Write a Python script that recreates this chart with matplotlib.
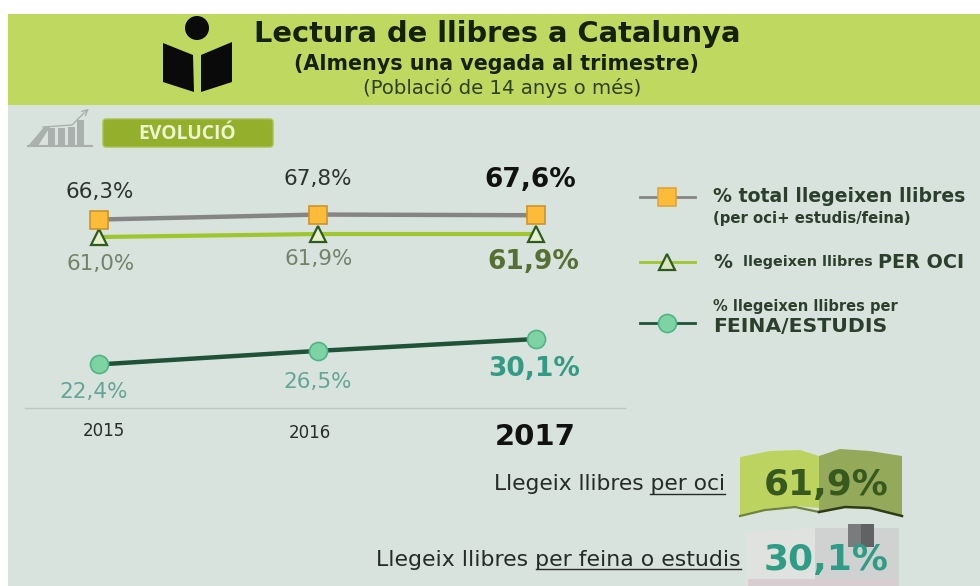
import numpy as np
import matplotlib
matplotlib.use('Agg')
import matplotlib.pyplot as plt
from matplotlib.patches import Polygon, Circle, Rectangle, FancyBboxPatch

years = [2015, 2016, 2017]
total = [66.3, 67.8, 67.6]
per_oci = [61.0, 61.9, 61.9]
feina_estudis = [22.4, 26.5, 30.1]

total_labels = ['66,3%', '67,8%', '67,6%']
oci_labels = ['61,0%', '61,9%', '61,9%']
feina_labels = ['22,4%', '26,5%', '30,1%']
year_labels = ['2015', '2016', '2017']

BG = '#d9e3de'
HEADER = '#bfd960'

plt.rcParams['font.family'] = ['DejaVu Sans']
fig = plt.figure(figsize=(9.8, 5.86), dpi=100, facecolor='white')


# pixel rectangle to figure fraction
def px_axes(x0, y0, x1, y1):
    return fig.add_axes([x0 / 980, 1 - y1 / 586, (x1 - x0) / 980, (y1 - y0) / 586])


# background layer, drawn in pixels of the picture
bg = px_axes(0, 0, 980, 586)
bg.set_xlim(0, 980)
bg.set_ylim(586, 0)
bg.axis('off')
bg.add_patch(Rectangle((8, 14), 972, 572, color=BG, lw=0))
bg.add_patch(Rectangle((8, 14), 972, 91, color=HEADER, lw=0))

# reader icon
bg.add_patch(Circle((197, 28), 12, color='#0a0a0a', lw=0))
bg.add_patch(Polygon([(163, 43), (193, 55), (194, 92), (163, 82)], color='#0a0a0a', lw=0))
bg.add_patch(Polygon([(201, 55), (232, 42), (232, 82), (201, 92)], color='#0a0a0a', lw=0))

bg.text(497, 34, 'Lectura de llibres a Catalunya', ha='center', va='center',
        fontsize=20.8, fontweight='bold', color='#14220a')
bg.text(496, 64, '(Almenys una vegada al trimestre)', ha='center', va='center',
        fontsize=14.9, fontweight='bold', color='#14220a')
bg.text(502, 88, '(Població de 14 anys o més)', ha='center', va='center',
        fontsize=14.2, color='#2f4020')

# small rising chart icon
icon_gray = '#aab0ae'
bg.add_patch(Polygon([(28, 146), (44, 127), (50, 127), (38, 146)], color=icon_gray, lw=0))
for x0, top in [(48, 128), (58, 128), (68, 127), (77, 120)]:
    bg.add_patch(Rectangle((x0, top), 7, 146 - top, color=icon_gray, lw=0))
bg.plot([28, 92], [146, 146], color=icon_gray, lw=1.5)
bg.plot([43, 72, 84], [127, 125, 113], color=icon_gray, lw=1)
bg.annotate('', xy=(91, 107), xytext=(83, 114),
            arrowprops=dict(arrowstyle='->', color=icon_gray, lw=1))

bg.add_patch(FancyBboxPatch((103, 119), 170, 28, boxstyle='round,pad=0,rounding_size=3',
                            fc='#93af2c', ec='#a9c24c', lw=1))
bg.text(187, 134, 'EVOLUCIÓ', ha='center', va='center', fontsize=13.9,
        fontweight='bold', color='#eef5d0', family='Open Sans')

# the line chart
ax = px_axes(25, 170, 625, 408)
ax.patch.set_alpha(0)
ax.set_xlim(2014.661, 2017.407)
ax.set_ylim(9.2, 81.3)
ax.set_xticks([])
ax.set_yticks([])
for side in ['top', 'left', 'right']:
    ax.spines[side].set_visible(False)
ax.spines['bottom'].set_color('#bcc6c2')
ax.spines['bottom'].set_linewidth(1)

ax.plot(years, total, color='#858585', lw=3.2, marker='s', ms=12.5, mfc='#fdbb3a',
        mec='#c9962a', mew=1.2, zorder=3)
ax.plot(years, per_oci, color='#9ec62e', lw=3, marker='^', ms=12, mfc='#e6f0cf',
        mec='#2f5a1e', mew=1.6, zorder=2)
ax.plot(years, feina_estudis, color='#1f5238', lw=3.2, marker='o', ms=13, mfc='#7dd3a4',
        mec='#4fb583', mew=1.2, zorder=3)

# label offsets are in pixels from the point
def put_label(x, y, s, dx, dy, color, size=15.5, bold=False):
    ax.annotate(s, xy=(x, y), xytext=(dx * 0.72, -dy * 0.72), textcoords='offset points',
                ha='center', va='center', fontsize=size, color=color,
                fontweight='bold' if bold else 'normal', annotation_clip=False)


for x, y, s, dx, dy in zip(years, total, total_labels, [1, 0, -6], [-28, -36, -35]):
    if x == 2017:
        put_label(x, y, s, dx, dy, '#111111', 19, True)
    else:
        put_label(x, y, s, dx, dy, '#2a3330')
for x, y, s, dx, dy in zip(years, per_oci, oci_labels, [2, 1, -3], [27, 25, 28]):
    if x == 2017:
        put_label(x, y, s, dx, dy, '#566f32', 19, True)
    else:
        put_label(x, y, s, dx, dy, '#71836a')
for x, y, s, dx, dy in zip(years, feina_estudis, feina_labels, [-5, 0, -2], [28, 31, 30]):
    if x == 2017:
        put_label(x, y, s, dx, dy, '#339a83', 19, True)
    else:
        put_label(x, y, s, dx, dy, '#63a596')

for x, s, dx, yy in zip(years, year_labels, [5, -8, -1], [23, 25, 29]):
    big = x == 2017
    ax.annotate(s, xy=(x, 9.2), xytext=(dx * 0.72, -yy * 0.72), textcoords='offset points',
                ha='center', va='center', fontsize=21 if big else 12,
                fontweight='bold' if big else 'normal', color='#111111' if big else '#252b28',
                annotation_clip=False)

# legend, laid out by hand like the original
fg = px_axes(0, 0, 980, 586)
fg.patch.set_alpha(0)
fg.set_xlim(0, 980)
fg.set_ylim(586, 0)
fg.axis('off')

fg.plot([640, 695], [197, 197], color='#858585', lw=2, zorder=1)
fg.plot([667], [197], marker='s', ms=13, mfc='#fdbb3a', mec='#e0a53a', mew=1.2)
fg.plot([640, 695], [262, 262], color='#9ec62e', lw=2, zorder=1)
fg.plot([667], [262], marker='^', ms=12, mfc='#d9e6c0', mec='#2f5a1e', mew=1.6)
fg.plot([640, 695], [323, 323], color='#1f5238', lw=2, zorder=1)
fg.plot([667], [323], marker='o', ms=13, mfc='#7dd3a4', mec='#4fb583', mew=1.2)

legend_color = '#2c3f2c'
fg.text(713, 197, '% total llegeixen llibres', va='center', fontsize=13.6,
        fontweight='bold', color=legend_color)
fg.text(713, 218, '(per oci+ estudis/feina)', va='center', fontsize=10.7,
        fontweight='bold', color=legend_color)
fg.text(713, 262, '%', va='center', fontsize=13.6, fontweight='bold', color=legend_color)
fg.text(743, 262, 'llegeixen llibres', va='center', fontsize=10.3, fontweight='bold',
        color=legend_color)
fg.text(878, 262, 'PER OCI', va='center', ha='left', fontsize=13.8, fontweight='bold',
        color=legend_color)
fg.text(713, 307, '% llegeixen llibres per', va='center', fontsize=10.5, fontweight='bold',
        color=legend_color)
fg.text(713, 327, 'FEINA/ESTUDIS', va='center', fontsize=14.7, fontweight='bold',
        color=legend_color)

# books at the bottom right
fg.add_patch(Polygon([(740, 457), (770, 451), (800, 450), (819, 456), (819, 508), (795, 506),
                      (765, 509), (740, 516)], fc='#bcd45f', ec='none'))
fg.add_patch(Polygon([(819, 456), (840, 449), (870, 451), (902, 456), (902, 516), (870, 508),
                      (845, 507), (819, 512)], fc='#95a95b', ec='none'))
fg.plot([740, 765, 795, 819], [516, 510, 507, 512], color='#71823a', lw=1.6)
fg.plot([819, 845, 870, 902], [512, 507, 508, 516], color='#2d3c14', lw=1.8)
fg.add_patch(Polygon([(745, 532), (815, 528), (815, 586), (745, 586)], fc='#e0e2e0', ec='none'))
fg.add_patch(Polygon([(815, 528), (899, 528), (899, 586), (815, 586)], fc='#cfd2d1', ec='none'))
fg.add_patch(Rectangle((848, 524), 13, 23, fc='#7a7b7c', ec='none'))
fg.add_patch(Rectangle((861, 524), 13, 23, fc='#606264', ec='none'))
fg.add_patch(Rectangle((748, 579), 148, 7, fc='#d8cdd0', ec='none'))

fg.text(826, 485, '61,9%', ha='center', va='center', fontsize=25.9, fontweight='bold',
        color='#37591d')
fg.text(826, 560, '30,1%', ha='center', va='center', fontsize=25.9, fontweight='bold',
        color='#2f9c85')

text_color = '#252b28'
fg.text(725, 484, 'Llegeix llibres per oci', ha='right', va='center', fontsize=15.7, color=text_color)
fg.plot([650, 725], [494, 494], color=text_color, lw=1)
fg.text(741, 560, 'Llegeix llibres per feina o estudis', ha='right', va='center',
        fontsize=15.8, color=text_color)
fg.plot([536, 741], [569, 569], color=text_color, lw=1)

fig.savefig('out.png', dpi=100, facecolor='white')
